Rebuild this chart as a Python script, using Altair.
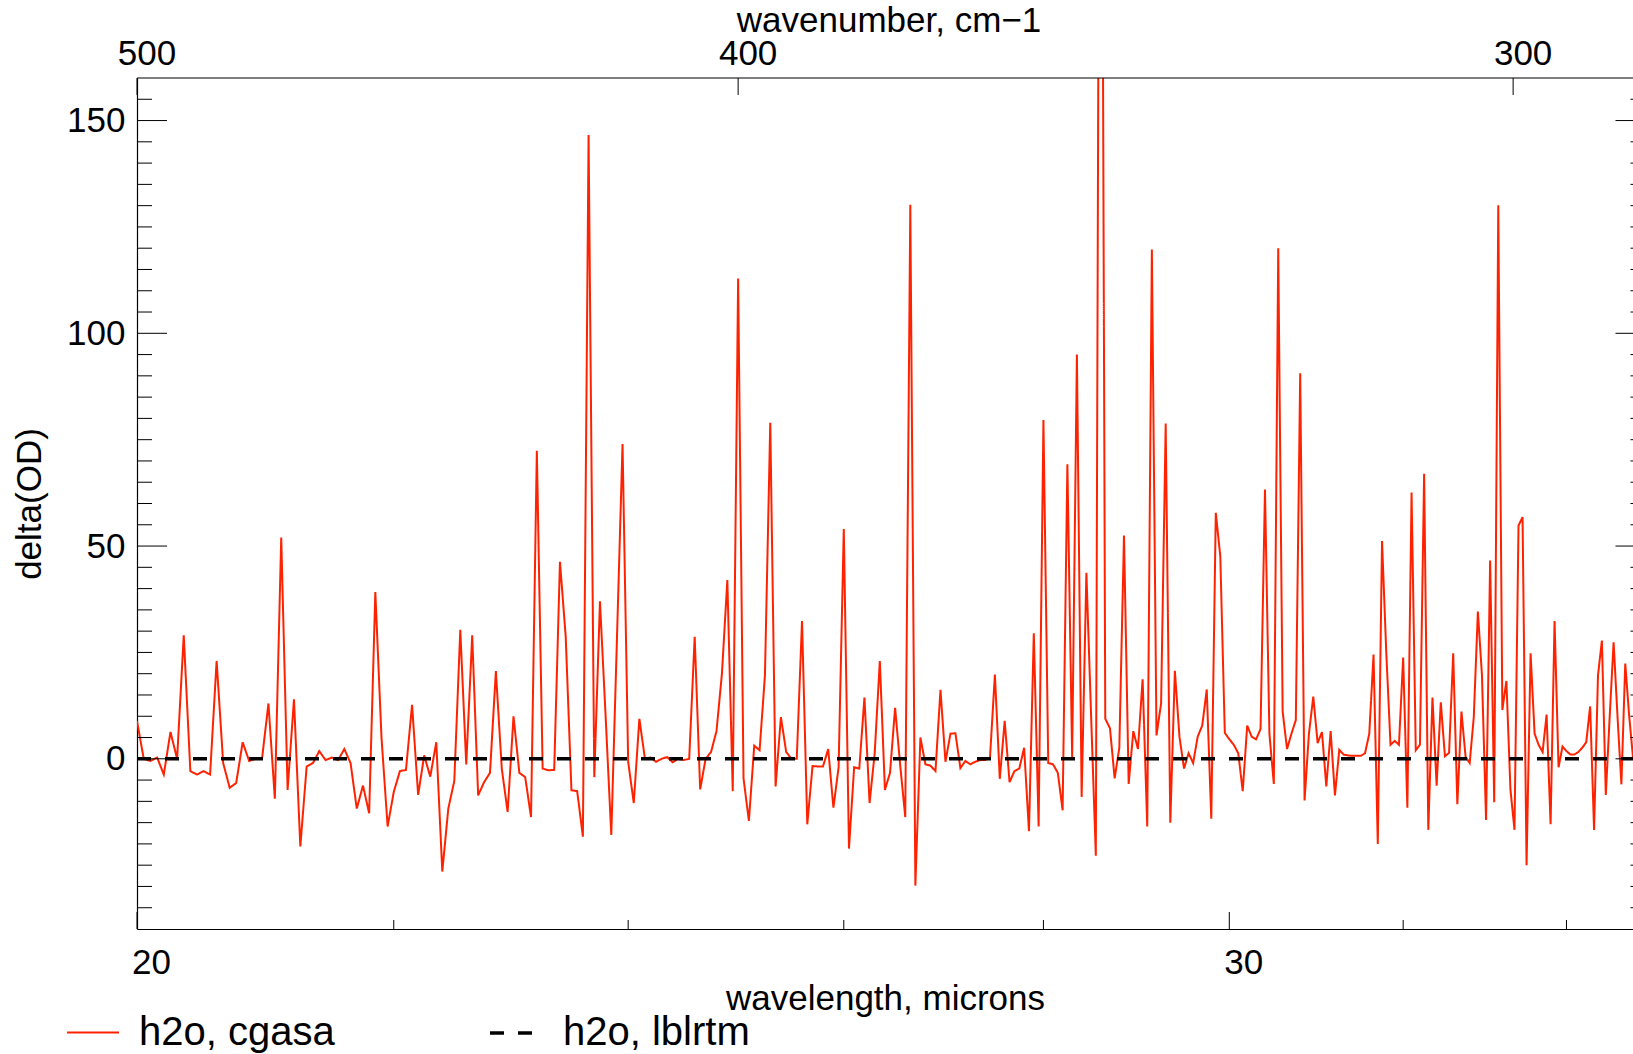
import pandas as pd
import altair as alt

# ---------------- data ----------------
SERIES = ["h2o, cgasa", "h2o, lblrtm"]
WL_START = 20.0     # microns, first sample
WL_STEP = 0.05      # microns between samples

CGASA_A = [8.9, 0, -0.5, 0.3, -3.7, 6.3, 0, 29, -2.9, -3.7,
           -2.9, -3.7, 23, -1, -6.8, -5.7, 3.9, -0.5, 0, 0,
           13, -9.4, 52, -7.3, 14, -20.6, -1.8, -1, 1.8, -0.3,
           0.3, -0.3, 2.3, -1, -11.7, -6.3, -12.8, 39.2, 5, -15.9,
           -7.8, -2.9, -2.6, 12.7, -8.5, 0.8, -4.2, 3.9, -26.5, -11.7]
CGASA_B = [-5.2, 30.3, -1.3, 29, -8.6, -5.5, -3.3, 20.6, -2.3, -12.5,
           10, -3.3, -4.3, -13.7, 72.4, -2.3, -2.7, -2.6, 46.3, 28.7,
           -7.4, -7.6, -18.3, 146.6, -4.3, 37, 10, -17.9, 28, 74,
           -0.7, -10.4, 9.4, 0, 0.3, -0.7, 0, 0.4, -0.8, 0,
           -0.3, 0, 28.7, -7.2, 0, 1.6, 6.5, 20, 42, -7.6]
CGASA_C = [112.9, -4.6, -14.6, 3.1, 2, 19.6, 79, -6.5, 9.8, 1.6,
           0, 0, 32.4, -15.4, -1.7, -1.8, -1.8, 2.3, -11.5, -2,
           54, -21.1, -2, -2.3, 14.4, -10.4, 1.3, 23, -7.3, -3.3,
           12, -1.5, -13.7, 130.2, -29.8, 5, -1.3, -1.6, -2.9, 16.2,
           -0.7, 5.9, 6, -2.2, -0.5, -1.3, -0.7, -0.3, -0.3, 0.3]
CGASA_D = [19.8, -4.7, 8.9, -5.5, -2.9, -2.3, 2.6, -17, 29.5, -15.9,
           79.6, -1, -1.3, -3.3, -12.1, 69.2, 0.3, 95, -9, 43.7,
           10, -22.8, 330, 9.4, 7.2, -4.6, 2.6, 52.5, -5.9, 6.5,
           2.3, 18.7, -15.9, 119.7, 5.5, 13, 78.8, -15, 20.7, 5.2,
           -2.3, 1.3, -1, 5.2, 7.8, 16.3, -14.1, 57.8, 47.6, 6.1]
CGASA_E = [4.6, 3.3, 1.3, -7.6, 7.8, 5.2, 4.6, 7, 63.3, 5.9,
           -5.9, 120, 11.1, 2.3, 5.9, 9.1, 90.6, -9.8, 5.9, 14.6,
           3.7, 6.3, -6.5, 6.5, -8.6, 2.1, 1, 0.8, 0.7, 0.7,
           0.7, 1.3, 5.9, 24.5, -20, 51.2, 25, 3.3, 4.2, 3.3,
           23.8, -11.5, 62.6, 2, 3.3, 67, -16.7, 14.4, -6.3, 13.3]
CGASA_F = [0.6, 1.4, 24.8, -10.7, 11.1, 0.5, -1, 9.8, 34.6, 19.6,
           -14.4, 46.6, -10.2, 130.1, 11.5, 18.3, -7.2, -16.7, 54.8, 56.8,
           -25, 24.8, 5.9, 3.3, 1.6, 10.4, -15.4, 32.4, -2, 2.9,
           1.8, 1, 1, 1.6, 2.6, 3.9, 12.3, -16.7, 19.6, 27.8,
           -8.5, 10, 27.4, 10, -6, 22.4, 10.2, 0.3]

LBLRTM_WL = [20.0, 34.85]
LBLRTM_OD = [0.0, 0.0]

X_DOMAIN = [20.0, 34.85]
Y_DOMAIN = [-40, 160]
X_MAJOR = [20, 30]
X_MINOR = [22, 24, 26, 28, 32, 34]
WN_TICKS = [500, 400, 300]
Y_MAJOR = [0, 50, 100, 150]
Y_MINOR = [v for v in range(-35, 160, 5) if v % 50 != 0]

X_TITLE = "wavelength, microns"
Y_TITLE = "delta(OD)"
TOP_TITLE = "wavenumber, cm−1"

cgasa = CGASA_A + CGASA_B + CGASA_C + CGASA_D + CGASA_E + CGASA_F
wl = [round(WL_START + WL_STEP * i, 4) for i in range(len(cgasa))]

df = pd.DataFrame({
    "series": [SERIES[0]] * len(cgasa) + [SERIES[1]] * len(LBLRTM_WL),
    "wl": wl + LBLRTM_WL,
    "od": cgasa + LBLRTM_OD,
})

# ---------------- layout ----------------
W, H = 1496, 851
FONT = "Liberation Sans"

xs = alt.Scale(type="log", domain=X_DOMAIN, nice=False)
ys = alt.Scale(domain=Y_DOMAIN, nice=False, zero=False)

X_AXIS = alt.Axis(orient="bottom", values=X_MAJOR, format=".0f", title=X_TITLE,
                  ticks=False, labelPadding=44, labelBaseline="alphabetic",
                  labelOffset=14, labelFlush=False, titleY=80,
                  titleBaseline="alphabetic")
Y_AXIS = alt.Axis(orient="left", values=Y_MAJOR, title=Y_TITLE, ticks=False,
                  labelPadding=12, labelFlush=False, titleAngle=270, titleX=-97,
                  titleY=H / 2, titleBaseline="alphabetic", titleAlign="center")

def X(field="wl:Q"):
    return alt.X(field, scale=xs, axis=X_AXIS)

def Y(field="od:Q"):
    return alt.Y(field, scale=ys, axis=Y_AXIS)

leg = alt.Legend(title=None, orient="none", legendX=-71, legendY=927,
                 direction="horizontal", symbolType="stroke", symbolSize=2704,
                 labelFontSize=40, labelFont=FONT, labelColor="black",
                 labelOffset=19, columnPadding=148, padding=0, labelLimit=0)

lines = alt.Chart(df).mark_line(clip=True).encode(
    x=X(), y=Y(),
    color=alt.Color("series:N", scale=alt.Scale(domain=SERIES, range=["#ff2200", "#000000"]), legend=leg),
    strokeDash=alt.StrokeDash("series:N", scale=alt.Scale(domain=SERIES, range=[[1, 0], [14, 14]]), legend=leg),
    strokeWidth=alt.StrokeWidth("series:N", scale=alt.Scale(domain=SERIES, range=[2, 3.5]), legend=leg),
)

def xrule(vals, y0, y1):
    return alt.Chart(pd.DataFrame({"wl": vals})).mark_rule(color="black", strokeWidth=1).encode(
        x=X(), y=alt.value(y0), y2=alt.value(y1))

def yrule(vals, x0, x1):
    return alt.Chart(pd.DataFrame({"od": vals})).mark_rule(color="black", strokeWidth=1).encode(
        y=Y(), x=alt.value(x0), x2=alt.value(x1))

# top (wavenumber) axis: tick positions are the wavelengths of the wavenumber ticks
top_df = pd.DataFrame({"wl": [10000.0 / w for w in WN_TICKS],
                       "label": [str(w) for w in WN_TICKS]})
top_ticks = alt.Chart(top_df).mark_rule(color="black", strokeWidth=1).encode(
    x=X(), y=alt.value(0), y2=alt.value(17))
top_labels = alt.Chart(top_df).mark_text(
    font=FONT, fontSize=35, color="black", baseline="alphabetic", align="center", dx=10
).encode(x=X(), y=alt.value(-13.5), text="label:N")
top_title = alt.Chart(pd.DataFrame({"t": [TOP_TITLE]})).mark_text(
    font=FONT, fontSize=35, color="black", baseline="alphabetic", align="center"
).encode(x=alt.value(W / 2 + 4), y=alt.value(-46), text="t:N")
top_frame = alt.Chart(pd.DataFrame({"od": [Y_DOMAIN[1]]})).mark_rule(color="black", strokeWidth=1.2).encode(
    y=Y(), x=alt.value(0), x2=alt.value(W))

chart = alt.layer(
    lines,
    xrule(X_MAJOR, H, H - 17),
    xrule(X_MINOR, H, H - 9),
    top_frame,
    top_ticks,
    top_labels,
    top_title,
    yrule(Y_MAJOR, 0, 30),
    yrule(Y_MINOR, 0, 15),
    yrule(Y_MAJOR, W - 17.5, W),
    yrule(Y_MINOR, W - 2.5, W),
).properties(
    width=W, height=H,
    padding={"left": 137, "top": 78, "right": 0, "bottom": 125},
    autosize=alt.AutoSizeParams(type="none"),
    background="white",
).configure_view(stroke=None).configure_axis(
    labelFont=FONT, titleFont=FONT, labelFontSize=35, titleFontSize=35,
    titleFontWeight="normal", labelColor="black", titleColor="black",
    domainColor="black", domainWidth=1.2, grid=False,
)

chart.save("out.html", embed_options={"renderer": "svg", "actions": False})
